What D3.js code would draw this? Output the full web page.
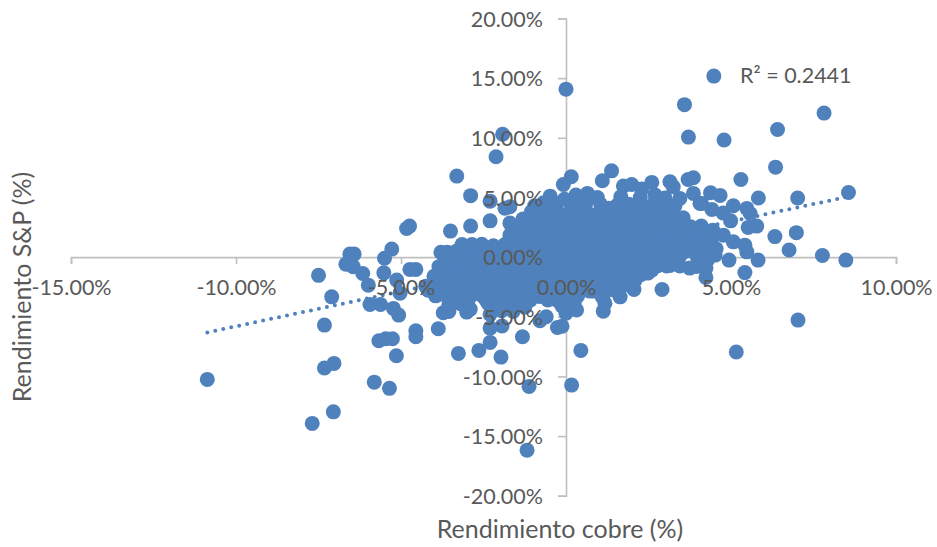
<!DOCTYPE html>
<html><head><meta charset="utf-8">
<script src="https://cdn.jsdelivr.net/npm/d3@7"></script>
<style>html,body{margin:0;background:#fff}svg{display:block}text{font-family:Lato,"Open Sans",sans-serif;fill:#595959}</style>
</head><body><div id="c"></div>
<script>
// values are [copper return %, S&P return %]
const xTicks = [-15,-10,-5,0,5,10];
const yTicks = [-20,-15,-10,-5,0,5,10,15,20];
const trendX = [-10.87, 8.56];
const trendY = [-6.31, 5.07];
const rSquared = "R² = 0.2441";
const xTitle = "Rendimiento cobre (%)";
const yTitle = "Rendimiento S&P (%)";

const outliersHigh = [[4.48,15.17],[0,14.08],[3.59,12.78],[3.71,10.06],[4.79,9.81],[7.82,12.07],[6.41,10.69],[6.35,7.54],[5.3,6.5],[5.83,4.95],[7.02,4.95],[8.56,5.41],[6.33,1.72],[6.98,2.05],[6.76,0.59],[7.77,0.13],[8.48,-0.25],[4.94,-0.25],[5.82,-0.25],[5.42,-1.3],[-1.92,10.3],[-2.12,8.41],[-2.89,5.15],[-3.31,6.79],[-3.5,2.18],[-4.74,2.6],[-4.83,2.4],[-2.3,4.69],[-2.3,3.04],[-2.89,2.6],[-1.7,4.22],[-1.85,4.1]];
const outliersLeft = [[-7.5,-1.53],[-6.55,0.25],[-6.42,0.25],[-6.67,-0.59],[-6.45,-0.8],[-6.16,-1.37],[-5.28,0.67],[-5.5,-0.1],[-5.52,-1.32],[-5.13,-1.93],[-4.73,-1.03],[-4.55,-1.03],[-3.79,0.4],[-3.6,0.4],[-5.99,-2.35],[-5.94,-3.97],[-5.62,-3.97],[-5.23,-4.3],[-5.07,-4.86],[-5.03,-3.02],[-10.87,-10.25],[-7.1,-3.33],[-7.32,-5.7],[-7.03,-8.91],[-7.32,-9.3],[-7.05,-12.97],[-7.69,-13.94],[-5.81,-10.48],[-5.35,-11.0],[-5.14,-8.27],[-5.67,-7.01],[-5.46,-6.85],[-5.26,-6.85],[-4.55,-6.18],[-4.55,-6.68],[-3.87,-6.0],[-3.26,-8.07],[-3.72,-4.67],[-3.55,-4.55]];
const outliersLow = [[7.03,-5.28],[5.16,-7.96],[2.91,-2.71],[0.45,-7.82],[0.17,-10.73],[-1.12,-10.84],[-1.18,-16.18],[-1.97,-8.38],[-2.64,-7.82],[-2.3,-7.15],[-1.32,-6.68],[-0.26,-5.9],[-0.12,-5.8],[-2.3,-5.95],[-1.94,-5.78],[-0.79,-5.34],[1.13,-4.53],[1.18,-3.88],[0.32,-4.44],[0,-4.7],[1.64,-3.33],[2.06,-2.71],[2.48,-1.34],[4.24,-1.7],[0.72,-2.85],[-0.6,-5.0],[-2.9,-4.36]];
const clusterRight = [[4.38,5.39],[4.67,5.17],[5.07,4.3],[5.48,4.08],[5.58,3.66],[4.42,4.0],[4.11,4.5],[4.76,3.7],[4.99,3.04],[5.52,2.49],[5.78,2.6],[5.42,1.0],[5.48,0.44],[5.07,1.28],[4.52,0.17],[4.77,1.84],[4.45,2.26],[3.15,-0.7],[3.75,-0.92],[4.24,-0.92],[3.9,0.6],[4.4,1.4],[4.55,0.7],[4.3,-0.2],[4.1,2.6],[4.3,1.9]];
const topEdge = [[0.16,6.73],[-0.08,6.09],[-0.48,5.11],[-0.95,4.3],[0.65,5.34],[0.3,5.2],[0.95,5.0],[-0.05,4.85],[-0.68,4.55],[-0.3,4.4],[0.2,4.3],[0.6,4.5],[1.66,5.06],[1.38,7.23],[1.1,6.4],[1.74,5.95],[1.99,6.09],[2.3,5.7],[2.6,6.26],[2.25,5.0],[2.7,5.2],[3.0,4.95],[3.15,6.31],[3.25,5.89],[3.45,4.92],[3.7,6.51],[3.86,6.65],[3.86,5.34],[4.06,4.5],[0.55,4.9],[1.05,4.4],[1.3,4.1],[-1.05,3.8],[-0.85,4.0],[-0.45,3.7]];
const row205 = [[1.55,4.35],[1.9,4.42],[2.3,4.38],[2.65,4.45],[3.0,4.3],[3.3,4.3]];
const row212 = [[-1.7,2.85],[-1.3,3.2],[-0.95,3.4],[-0.62,3.45],[-0.3,3.9],[0.05,3.65],[0.4,3.85],[0.72,3.6],[1.05,3.7],[1.4,3.85],[1.78,3.62],[2.1,3.9],[2.5,3.7],[2.85,3.82],[3.22,3.65]];
const row218 = [[-0.85,3.1],[-0.48,3.28],[-0.12,3.2],[0.22,3.3],[0.58,3.22],[0.9,3.3],[1.25,3.2],[1.6,3.28],[1.95,3.2],[2.3,3.3],[2.65,3.22],[3.05,3.25],[3.55,3.3]];
const row224 = [[-1.35,2.6],[-1.0,2.85],[-0.65,2.7],[-0.3,2.9],[0.05,2.65],[0.4,2.85],[0.75,2.7],[1.1,2.9],[1.45,2.65],[1.8,2.85],[2.15,2.7],[2.5,2.9],[2.85,2.65],[3.2,2.85],[3.52,2.7],[3.78,2.55]];
const row230 = [[-1.5,2.25],[-1.15,2.3],[-0.82,2.2],[-0.48,2.3],[-0.12,2.22],[0.22,2.3],[0.58,2.2],[0.92,2.28],[1.28,2.22],[1.62,2.3],[1.98,2.2],[2.32,2.28],[2.68,2.22],[3.02,2.3],[3.38,2.2],[3.7,2.25],[4.0,2.2]];
const row236 = [[-1.7,1.85],[-1.35,1.7],[-1,1.8],[-0.65,1.72],[-0.3,1.85],[0.05,1.7],[0.4,1.8],[0.75,1.68],[1.1,1.85],[1.45,1.7],[1.8,1.78],[2.15,1.72],[2.5,1.85],[2.85,1.7],[3.2,1.8],[3.55,1.72],[3.85,1.8],[4.12,1.7]];
const row241 = [[-1.52,1.32],[-1.18,1.38],[-0.82,1.3],[-0.48,1.36],[-0.12,1.3],[0.22,1.38],[0.58,1.3],[0.92,1.36],[1.28,1.3],[1.62,1.38],[1.98,1.3],[2.32,1.36],[2.68,1.3],[3.02,1.38],[3.38,1.3],[3.7,1.36],[4.0,1.3],[4.24,1.42]];
const row246 = [[-3.15,1.05],[-2.85,1.05],[-2.55,1.08],[-2.2,0.95],[-1.85,1.05],[-1.5,0.85],[-1.15,1.0],[-0.8,0.88],[-0.45,0.98],[-0.1,0.85],[0.25,0.95],[0.6,0.88],[0.95,1.0],[1.3,0.85],[1.65,0.95],[2,0.88],[2.35,1.0],[2.7,0.85],[3.05,0.95],[3.4,0.9],[3.75,0.98],[4.1,0.85],[4.35,0.92]];
const row251 = [[-3.32,0.5],[-2.98,0.55],[-2.62,0.48],[-2.28,0.55],[-1.92,0.48],[-1.58,0.54],[-1.22,0.46],[-0.88,0.52],[-0.52,0.46],[-0.18,0.54],[0.18,0.48],[0.52,0.55],[0.88,0.46],[1.22,0.52],[1.58,0.48],[1.92,0.55],[2.28,0.46],[2.62,0.52],[2.98,0.48],[3.3,0.54],[3.62,0.5],[4.0,0.5],[4.3,0.45]];
const row256 = [[-3.5,0.1],[-3.15,0.02],[-2.8,0.15],[-2.45,0.05],[-2.1,0.12],[-1.75,0],[-1.4,0.1],[-1.05,0.02],[-0.7,0.15],[-0.35,0.05],[0,0.1],[0.35,0],[0.7,0.12],[1.05,0.05],[1.4,0.14],[1.75,0],[2.1,0.1],[2.45,0.03],[2.8,0.12],[3.12,0.02],[3.45,0.1],[3.97,0.08]];
const row261 = [[-3.68,-0.35],[-3.32,-0.3],[-2.98,-0.38],[-2.62,-0.32],[-2.28,-0.36],[-1.92,-0.3],[-1.58,-0.38],[-1.22,-0.32],[-0.88,-0.36],[-0.52,-0.3],[-0.18,-0.38],[0.18,-0.32],[0.52,-0.36],[0.88,-0.3],[1.22,-0.38],[1.58,-0.32],[1.92,-0.36],[2.28,-0.3],[2.62,-0.38],[2.95,-0.32],[3.28,-0.36],[4.15,-0.4]];
const row266 = [[-3.85,-0.8],[-3.5,-0.7],[-3.15,-0.85],[-2.8,-0.72],[-2.45,-0.8],[-2.1,-0.68],[-1.75,-0.82],[-1.4,-0.72],[-1.05,-0.85],[-0.7,-0.7],[-0.35,-0.8],[0,-0.72],[0.35,-0.85],[0.7,-0.7],[1.05,-0.8],[1.4,-0.72],[1.75,-0.84],[2.1,-0.7],[2.45,-0.8],[2.78,-0.72],[3.05,-0.75],[3.45,-0.75],[3.95,-0.78]];
const row271 = [[-3.68,-1.15],[-3.32,-1.2],[-2.98,-1.12],[-2.62,-1.18],[-2.28,-1.14],[-1.92,-1.2],[-1.58,-1.12],[-1.22,-1.18],[-0.88,-1.14],[-0.52,-1.2],[-0.18,-1.12],[0.18,-1.18],[0.52,-1.14],[0.88,-1.2],[1.22,-1.12],[1.58,-1.18],[1.92,-1.14],[2.28,-1.2],[2.6,-1.1]];
const row276 = [[-4.0,-1.6],[-3.65,-1.52],[-3.3,-1.66],[-2.95,-1.55],[-2.6,-1.62],[-2.25,-1.5],[-1.9,-1.65],[-1.55,-1.55],[-1.2,-1.6],[-0.85,-1.5],[-0.5,-1.66],[-0.15,-1.55],[0.2,-1.62],[0.55,-1.5],[0.9,-1.65],[1.25,-1.55],[1.6,-1.6],[1.95,-1.52],[2.25,-1.5]];
const row281 = [[-3.85,-2.02],[-3.48,-1.98],[-3.12,-2.04],[-2.78,-2.0],[-2.42,-2.05],[-2.08,-1.96],[-1.72,-2.03],[-1.38,-1.98],[-1.02,-2.05],[-0.68,-1.98],[-0.32,-2.03],[0.02,-1.96],[0.38,-2.04],[0.72,-1.98],[1.08,-2.03],[1.42,-1.96],[1.78,-2.02],[2.08,-2.0]];
const row286 = [[-4.25,-2.45],[-4.18,-2.77],[-3.9,-2.38],[-3.55,-2.5],[-3.2,-2.4],[-2.85,-2.48],[-2.5,-2.35],[-2.15,-2.5],[-1.8,-2.4],[-1.45,-2.46],[-1.1,-2.36],[-0.75,-2.5],[-0.4,-2.4],[-0.05,-2.46],[0.3,-2.36],[0.65,-2.45],[1.0,-2.4],[1.35,-2.48],[1.7,-2.38],[1.98,-2.45]];
const row291 = [[-3.98,-2.85],[-3.72,-2.8],[-3.38,-2.88],[-3.02,-2.82],[-2.68,-2.86],[-2.32,-2.8],[-1.98,-2.88],[-1.62,-2.82],[-1.28,-2.86],[-0.92,-2.8],[-0.58,-2.88],[-0.22,-2.82],[0.12,-2.86],[0.48,-2.8],[0.85,-2.85],[1.2,-2.88],[1.5,-2.82]];
const row296 = [[-3.95,-3.25],[-3.6,-3.32],[-3.25,-3.2],[-2.9,-3.3],[-2.55,-3.22],[-2.2,-3.32],[-1.85,-3.2],[-1.5,-3.3],[-1.15,-3.22],[-0.8,-3.3],[-0.45,-3.2],[-0.1,-3.3],[0.35,-3.25],[1.1,-3.35]];
const row300 = [[-3.4,-3.6],[-3.08,-3.55],[-2.42,-3.62],[-2.12,-3.58],[-1.78,-3.62],[-1.42,-3.56],[-1.08,-3.6],[-0.25,-3.65],[0.12,-3.6]];
const row304 = [[-3.55,-3.95],[-3.2,-3.9],[-2.98,-3.95],[-2.35,-3.9],[-2.0,-4.0],[-1.65,-3.9],[-1.3,-3.85],[-0.55,-3.6],[-0.12,-4.1],[0.25,-3.85]];
const row311 = [[-3.01,-4.61],[-2.3,-4.8],[-1.95,-4.5],[-1.6,-4.55],[-1.25,-4.2]];

const points = [].concat(outliersHigh,outliersLeft,outliersLow,clusterRight,topEdge,row205,row212,row218,row224,row230,row236,row241,row246,row251,row256,row261,row266,row271,row276,row281,row286,row291,row296,row300,row304,row311);

const W=937,H=547;
const x=d3.scaleLinear().domain([-15,10]).range([71,896]);
const y=d3.scaleLinear().domain([-20,20]).range([495.7,18.5]);
const svg=d3.select("#c").append("svg").attr("width",W).attr("height",H);
const pct=d=>d.toFixed(2)+"%";
const axisX=d3.axisBottom(x).tickValues(xTicks).tickFormat(pct).tickSize(7).tickPadding(17);
const axisY=d3.axisLeft(y).tickValues(yTicks).tickFormat(pct).tickSize(8).tickPadding(15);

// lines under the marks
const lx=svg.append("g").attr("transform",`translate(0,${y(0)})`).call(axisX);
const ly=svg.append("g").attr("transform",`translate(${x(0)},0)`).call(axisY);
[lx,ly].forEach(g=>{g.selectAll("text").remove();g.selectAll("line,path").attr("stroke","#bfbfbf").attr("stroke-width",1.6);});

svg.append("path").datum(d3.zip(trendX,trendY))
  .attr("d",d3.line().x(d=>x(d[0])).y(d=>y(d[1])))
  .attr("fill","none").attr("stroke","#4f81bd").attr("stroke-width",4)
  .attr("stroke-linecap","round").attr("stroke-dasharray","0 8.15");

svg.append("g").selectAll("circle").data(points).join("circle")
  .attr("cx",d=>x(d[0])).attr("cy",d=>y(d[1])).attr("r",7.5).attr("fill","#4f81bd");

// labels over the marks
const tx=svg.append("g").attr("transform",`translate(0,${y(0)})`).call(axisX);
const ty=svg.append("g").attr("transform",`translate(${x(0)},0)`).call(axisY);
[tx,ty].forEach(g=>{g.selectAll("line,path").remove();g.selectAll("text").style("font-size","21.5px").style("font-family","Lato").attr("fill","#595959");});
tx.selectAll("text").attr("dy",null).attr("y",38).attr("dominant-baseline","auto");
ty.selectAll("text").attr("dy","0.36em");

svg.append("text").attr("x",740).attr("y",83).style("font-size","21.5px").text(rSquared);
svg.append("text").attr("x",560).attr("y",538).attr("text-anchor","middle").style("font-size","25px").text(xTitle);
svg.append("text").attr("transform","translate(31,287) rotate(-90)").attr("text-anchor","middle").style("font-size","25px").text(yTitle);
</script></body></html>
